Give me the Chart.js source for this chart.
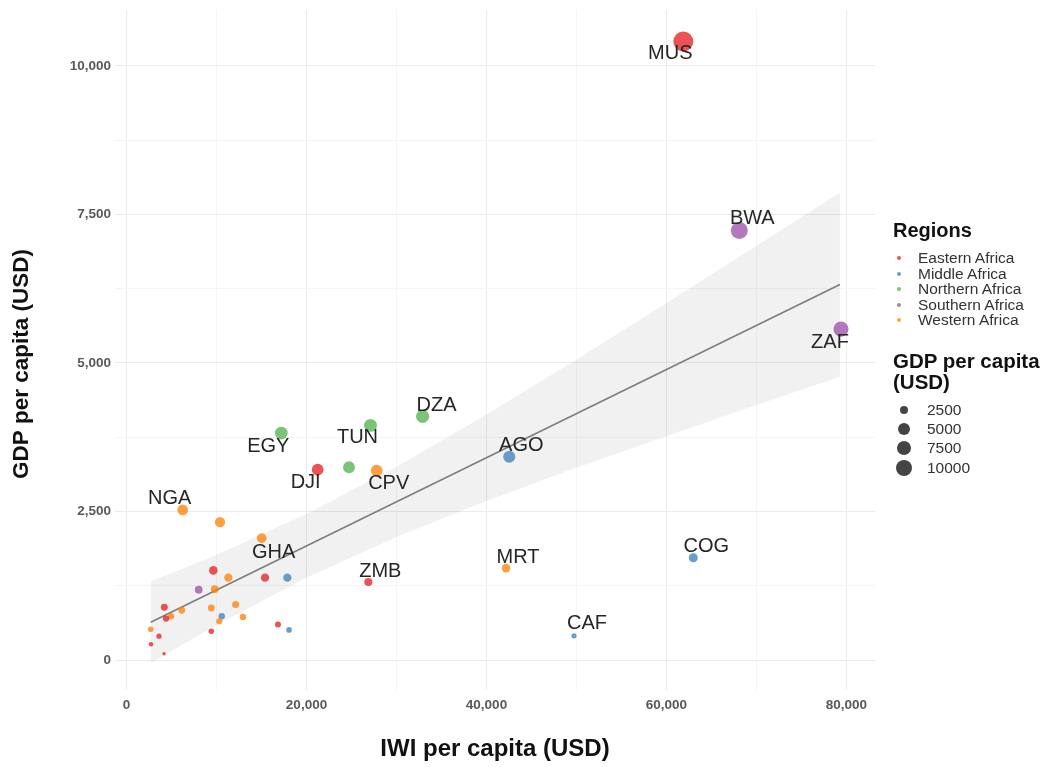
<!DOCTYPE html>
<html>
<head>
<meta charset="utf-8">
<script src="https://cdn.jsdelivr.net/npm/chart.js@4.4.1/dist/chart.umd.min.js"></script>
<style>
  body { margin: 0; background: #fff; font-family: "Liberation Sans", Arial, sans-serif; }
  #wrap { position: relative; width: 1045px; height: 767px; }
  canvas { position: absolute; left: 0; top: 0; }
  .lg { position: absolute; white-space: nowrap; color: #333; }
  .dot { position: absolute; border-radius: 50%; }
</style>
</head>
<body>
<div id="wrap">
  <canvas id="chart" width="1045" height="767"></canvas>
  <div id="legend"></div>
</div>
<script>
// Country data (IWI per capita vs GDP per capita)
const codes = ['MUS', 'BWA', 'ZAF', 'DZA', 'TUN', 'EGY', '', 'DJI', 'CPV', 'AGO',
  'NGA', '', 'GHA', '', '', 'ZMB', 'MRT', 'COG', 'CAF',
  '', '', '', '', '', '', '', '', '', '', '', '', '', '', '', '', '', '', '', ''];
const regionOf = ['Eastern Africa', 'Southern Africa', 'Southern Africa', 'Northern Africa', 'Northern Africa',
  'Northern Africa', 'Northern Africa', 'Eastern Africa', 'Western Africa', 'Middle Africa',
  'Western Africa', 'Western Africa', 'Western Africa', 'Eastern Africa', 'Middle Africa',
  'Eastern Africa', 'Western Africa', 'Middle Africa', 'Middle Africa',
  'Eastern Africa', 'Western Africa', 'Southern Africa', 'Western Africa', 'Eastern Africa',
  'Western Africa', 'Western Africa', 'Eastern Africa', 'Western Africa', 'Western Africa',
  'Middle Africa', 'Western Africa', 'Western Africa', 'Western Africa', 'Eastern Africa',
  'Eastern Africa', 'Eastern Africa', 'Eastern Africa', 'Eastern Africa', 'Middle Africa'];
const iwi = [61870, 68090, 79390, 32900, 27110, 17200, 24720, 21240, 27800, 42530,
  6240, 10390, 15020, 15390, 17870, 26870, 42170, 62980, 49720,
  9645, 11310, 8020, 9800, 4200, 6130, 4940, 4390, 9420, 12130,
  10580, 10310, 12940, 2690, 3610, 2720, 4170, 9420, 16830, 18060];
const gdp = [10410, 7230, 5570, 4100, 3950, 3820, 3245, 3205, 3190, 3423,
  2528, 2321, 2052, 1387, 1387, 1314, 1548, 1722, 408,
  1510, 1387, 1186, 1196, 889, 839, 738, 699, 878, 935,
  738, 654, 727, 520, 403, 268, 106, 487, 599, 508];

// Linear fit and its confidence band
const fitX = [2690, 79280];
const fitY = [638, 6320];
const bandX = [2690, 10000, 20000, 30000, 40000, 50000, 60000, 70000, 79280];
const bandUpper = [1323, 1771, 2460, 3255, 4134, 5060, 6009, 6971, 7871];
const bandLower = [-47, 589, 1384, 2073, 2678, 3236, 3769, 4291, 4769];

// Axis ticks
const xTicks = [0, 10000, 20000, 30000, 40000, 50000, 60000, 70000, 80000];
const yTicks = [0, 1250, 2500, 3750, 5000, 6250, 7500, 8750, 10000];

const regionNames = ['Eastern Africa', 'Middle Africa', 'Northern Africa', 'Southern Africa', 'Western Africa'];
const sizeBreaks = [2500, 5000, 7500, 10000];

const regionColors = {
  'Eastern Africa': [228, 26, 28],
  'Middle Africa': [55, 126, 184],
  'Northern Africa': [77, 175, 74],
  'Southern Africa': [152, 78, 163],
  'Western Africa': [255, 127, 0]
};
const rgba = (c, a) => `rgba(${c[0]},${c[1]},${c[2]},${a})`;
// point radius grows with sqrt of GDP (area scale)
const radius = v => 1.7 + 0.0905 * (Math.sqrt(v) - 10.3);

// label nudges (px) relative to the point
const labelNudge = {
  MUS: [-13, 12], BWA: [13, -12], ZAF: [-11, 13], DZA: [14, -11], TUN: [-13, 12],
  EGY: [-13, 13], DJI: [-12, 13], CPV: [12, 13], AGO: [12, -11], NGA: [-13, -11],
  GHA: [12, 14], ZMB: [12, -11], MRT: [12, -11], COG: [13, -11], CAF: [13, -12]
};

const labelPlugin = {
  id: 'codeLabels',
  afterDatasetsDraw(chart) {
    const { ctx, scales: { x, y } } = chart;
    ctx.save();
    ctx.font = '20px "Liberation Sans", Arial, sans-serif';
    ctx.fillStyle = '#262626';
    ctx.textAlign = 'center';
    ctx.textBaseline = 'middle';
    codes.forEach((c, i) => {
      if (!c) return;
      const [dx, dy] = labelNudge[c];
      ctx.fillText(c, x.getPixelForValue(iwi[i]) + dx, y.getPixelForValue(gdp[i]) + dy);
    });
    // y axis title, sits a little below the panel centre in the original
    ctx.translate(22, 364);
    ctx.rotate(-Math.PI / 2);
    ctx.font = 'bold 22.5px "Liberation Sans", Arial, sans-serif';
    ctx.fillStyle = '#111';
    ctx.fillText('GDP per capita (USD)', 0, 0);
    ctx.restore();
  }
};

const gridColor = (major) => (ctx) => (ctx.tick && ctx.tick.value % major === 0) ? '#ebebeb' : '#f5f5f5';

new Chart(document.getElementById('chart'), {
  type: 'scatter',
  data: {
    datasets: [
      {
        type: 'line',
        data: bandX.map((x, i) => ({ x: x, y: bandLower[i] })),
        borderColor: 'transparent', borderWidth: 0, pointRadius: 0, fill: false, order: 4
      },
      {
        type: 'line',
        data: bandX.map((x, i) => ({ x: x, y: bandUpper[i] })),
        borderColor: 'transparent', borderWidth: 0, pointRadius: 0,
        fill: '-1', backgroundColor: 'rgba(0,0,0,0.055)', order: 3
      },
      {
        type: 'line',
        data: fitX.map((x, i) => ({ x: x, y: fitY[i] })),
        borderColor: '#7d7d7d', borderWidth: 1.6, pointRadius: 0, fill: false, order: 2
      },
      {
        data: iwi.map((x, i) => ({ x: x, y: gdp[i] })),
        pointBackgroundColor: regionOf.map(r => rgba(regionColors[r], 0.75)),
        pointBorderWidth: 0,
        pointRadius: gdp.map(radius),
        order: 1
      }
    ]
  },
  options: {
    responsive: false,
    animation: false,
    layout: { padding: { top: 8, right: 170, left: 0, bottom: 0 } },
    plugins: { legend: { display: false }, tooltip: { enabled: false } },
    scales: {
      x: {
        type: 'linear',
        min: -1280,
        max: 83170,
        afterBuildTicks: s => { s.ticks = xTicks.map(v => ({ value: v })); },
        afterFit: s => { s.height = 77; s.paddingLeft = 0; s.paddingRight = 0; },
        border: { display: false },
        grid: { color: gridColor(20000), drawTicks: false },
        ticks: {
          padding: 7,
          color: '#595959',
          font: { family: '"Liberation Sans", Arial', size: 13.5, weight: 'bold' },
          callback: v => (v % 20000 === 0 ? v.toLocaleString('en-US') : '')
        },
        title: {
          display: true,
          text: 'IWI per capita (USD)',
          color: '#111',
          font: { family: '"Liberation Sans", Arial', size: 24, weight: 'bold' },
          padding: { top: 0, bottom: 3 }
        }
      },
      y: {
        type: 'linear',
        min: -503,
        max: 10940,
        afterBuildTicks: s => { s.ticks = yTicks.map(v => ({ value: v })); },
        afterFit: s => { s.width = 115; s.paddingTop = 0; s.paddingBottom = 0; },
        border: { display: false },
        grid: { color: gridColor(2500), drawTicks: false },
        ticks: {
          padding: 4,
          color: '#595959',
          font: { family: '"Liberation Sans", Arial', size: 13.5, weight: 'bold' },
          callback: v => (v % 2500 === 0 ? v.toLocaleString('en-US') : '')
        }
      }
    }
  },
  plugins: [labelPlugin]
});

// Legend (regions + size)
const legend = document.getElementById('legend');
function addText(txt, left, cy, size, bold, h) {
  const d = document.createElement('div');
  d.className = 'lg';
  d.textContent = txt;
  d.style.left = left + 'px';
  d.style.top = (cy - h / 2) + 'px';
  d.style.height = h + 'px';
  d.style.lineHeight = h + 'px';
  d.style.fontSize = size + 'px';
  if (bold) { d.style.fontWeight = 'bold'; d.style.color = '#111'; }
  legend.appendChild(d);
}
function addDot(cx, cy, r, color) {
  const d = document.createElement('div');
  d.className = 'dot';
  d.style.left = (cx - r) + 'px';
  d.style.top = (cy - r) + 'px';
  d.style.width = (2 * r) + 'px';
  d.style.height = (2 * r) + 'px';
  d.style.background = color;
  legend.appendChild(d);
}
addText('Regions', 893, 230, 20, true, 22);
regionNames.forEach((r, i) => {
  const cy = 258 + i * 15.6;
  addDot(899, cy, 2, rgba(regionColors[r], 0.75));
  addText(r, 918, cy, 15.5, false, 16);
});
addText('GDP per capita', 893, 361, 20.5, true, 22);
addText('(USD)', 893, 382, 20.5, true, 22);
const sizeY = [410, 429, 448, 468];
sizeBreaks.forEach((b, i) => {
  addDot(904, sizeY[i], radius(b) * 0.85, '#444');
  addText(String(b), 927, sizeY[i], 15.5, false, 16);
});
</script>
</body>
</html>
